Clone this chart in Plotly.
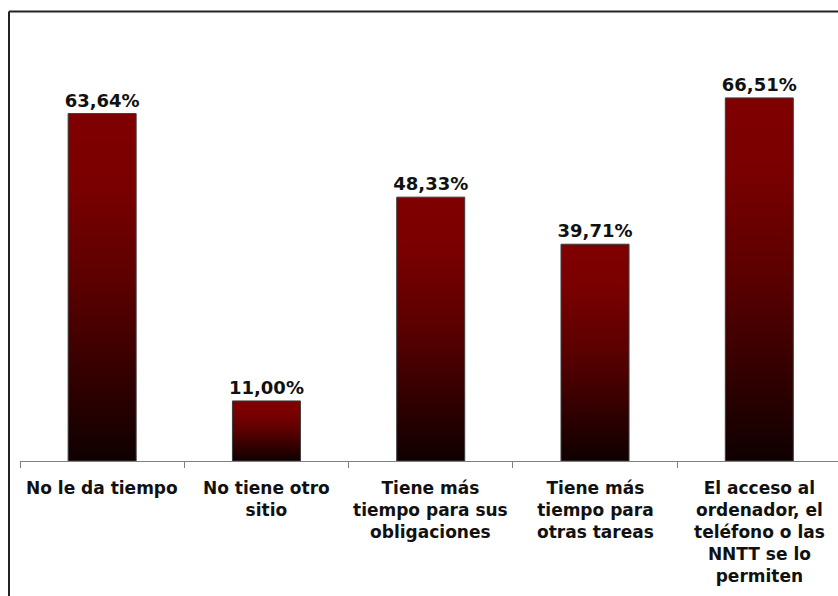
import plotly.graph_objects as go

# Motivos (porcentaje de respuestas)
categorias = [
    "No le da tiempo",
    "No tiene otro<br>sitio",
    "Tiene más<br>tiempo para sus<br>obligaciones",
    "Tiene más<br>tiempo para<br>otras tareas",
    "El acceso al<br>ordenador, el<br>teléfono o las<br>NNTT se lo<br>permiten",
]
porcentajes = [63.64, 11.00, 48.33, 39.71, 66.51]

ANCHO_BARRA = 0.414
FUENTE = "DejaVu Sans, Verdana, sans-serif"
degradado = [[0, "#0f0000"], [0.5, "#5a0000"], [0.8, "#7a0000"], [1, "#800000"]]

fig = go.Figure()

# Relleno degradado de cada barra (rojo oscuro arriba, casi negro abajo)
for i, v in enumerate(porcentajes):
    x0, x1 = i - ANCHO_BARRA / 2, i + ANCHO_BARRA / 2
    fig.add_trace(go.Scatter(
        x=[x0, x1, x1, x0, x0],
        y=[0, 0, v, v, 0],
        mode="lines",
        fill="toself",
        fillgradient=dict(type="vertical", colorscale=degradado),
        line=dict(color="#3c3c3c", width=1),
        hoverinfo="skip",
        showlegend=False,
    ))

# Barras con el valor encima
fig.add_trace(go.Bar(
    x=list(range(len(porcentajes))),
    y=porcentajes,
    width=ANCHO_BARRA,
    marker=dict(color="rgba(0,0,0,0)", line=dict(width=0)),
    texttemplate="%{y:.2f}%",
    textposition="outside",
    constraintext="none",
    cliponaxis=False,
    textfont=dict(family=FUENTE, size=18, color="#111111", weight="bold"),
    showlegend=False,
))

# Etiquetas de categoría bajo el eje
for i, c in enumerate(categorias):
    fig.add_annotation(
        x=i, y=0, xref="x", yref="y",
        text=c, showarrow=False,
        yanchor="top", yshift=-15,
        align="center",
        font=dict(family=FUENTE, size=17, color="#111111", weight="bold"),
    )

# Marco del gráfico (lado izquierdo y superior)
marco = dict(color="#222222", width=2)
fig.add_shape(type="line", xref="paper", yref="paper",
              x0=-0.01345, x1=-0.01345, y0=-0.5, y1=1.0193, line=marco)
fig.add_shape(type="line", xref="paper", yref="paper",
              x0=-0.01345, x1=1.0, y0=1.0193, y1=1.0193, line=marco)

fig.update_layout(
    width=838, height=596,
    margin=dict(l=20, r=0, t=20, b=135),
    paper_bgcolor="white", plot_bgcolor="white",
    separators=",.",
    showlegend=False,
    xaxis=dict(
        range=[-0.5, 4.479],
        tickvals=[-0.5, 0.5, 1.5, 2.5, 3.5, 4.5],
        showticklabels=False,
        ticks="outside", ticklen=6, tickcolor="#808080", tickwidth=1,
        showline=True, linecolor="#808080", linewidth=1,
        showgrid=False, zeroline=False,
    ),
    yaxis=dict(
        range=[0, 80.78],
        visible=False,
        showgrid=False, zeroline=False,
    ),
)

fig.write_html("out.html")
